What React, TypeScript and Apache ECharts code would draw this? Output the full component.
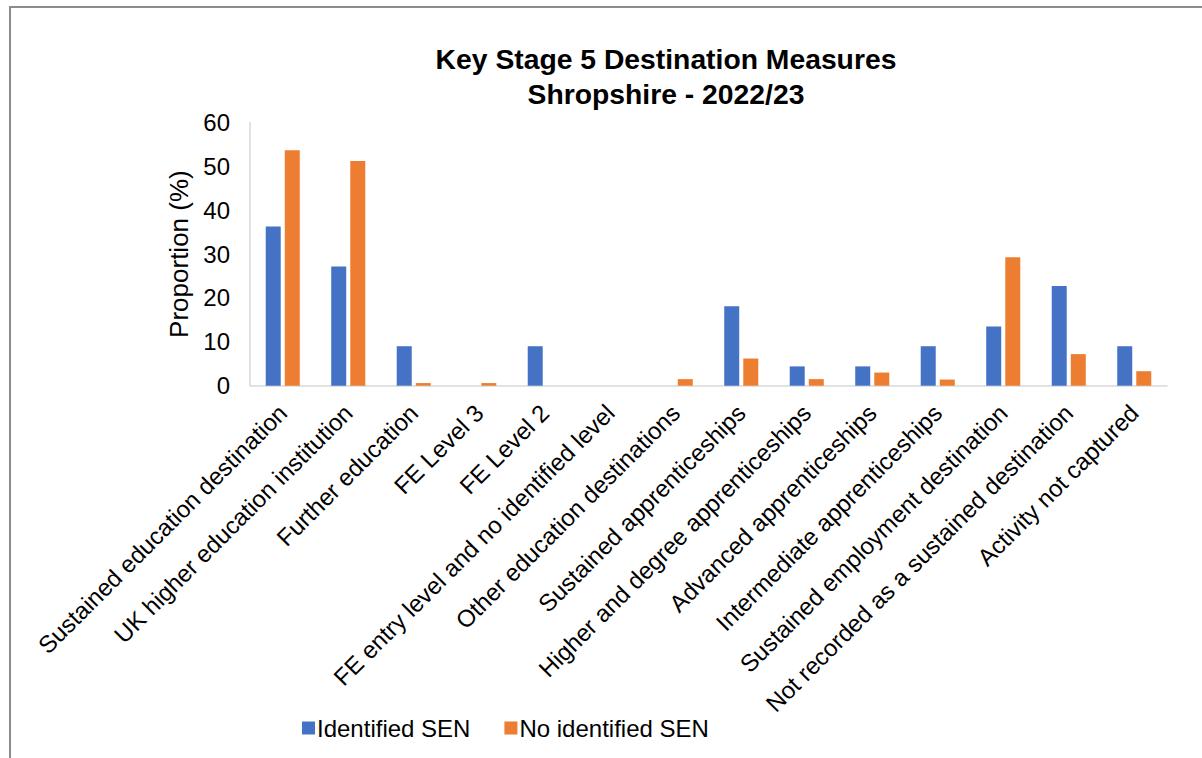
import React, { useEffect, useRef } from "react";
import * as echarts from "echarts";

const categories = [
  "Sustained education destination",
  "UK higher education institution",
  "Further education",
  "FE Level 3",
  "FE Level 2",
  "FE entry level and no identified level",
  "Other education destinations",
  "Sustained apprenticeships",
  "Higher and degree apprenticeships",
  "Advanced apprenticeships",
  "Intermediate apprenticeships",
  "Sustained employment destination",
  "Not recorded as a sustained destination",
  "Activity not captured",
];

const identifiedSEN = [36.3, 27.2, 9.0, 0, 9.0, 0, 0, 18.1, 4.4, 4.4, 9.0, 13.5, 22.7, 9.0];
const noIdentifiedSEN = [53.7, 51.2, 0.6, 0.6, 0, 0, 1.5, 6.2, 1.5, 3.0, 1.4, 29.3, 7.2, 3.3];

const seriesNames = ["Identified SEN", "No identified SEN"];
const titleLines = ["Key Stage 5 Destination Measures", "Shropshire - 2022/23"];
const yAxisName = "Proportion (%)";

const FONT = "'Liberation Sans', Arial, sans-serif";

export default function App() {
  const ref = useRef<HTMLDivElement>(null);
  useEffect(() => {
    if (!ref.current) return;
    const chart = echarts.init(ref.current, null, { renderer: "svg" });
    chart.setOption({
      animation: false,
      backgroundColor: "#ffffff",
      textStyle: { fontFamily: FONT },
      graphic: [
        {
          type: "rect",
          shape: { x: 10, y: 7, width: 1300, height: 900 },
          style: { fill: "none", stroke: "#8c8c8c", lineWidth: 2 },
          silent: true,
        },
        {
          type: "text",
          x: 666,
          y: 76,
          style: {
            text: titleLines.join("\n"),
            textAlign: "center",
            textVerticalAlign: "middle",
            fontFamily: FONT,
            fontWeight: "bold",
            fontSize: 28.3,
            lineHeight: 35,
            fill: "#000000",
          },
        },
      ],
      legend: {
        data: seriesNames,
        left: 297,
        top: 711,
        itemWidth: 13,
        itemHeight: 13,
        itemGap: 34,
        icon: "rect",
        textStyle: { fontFamily: FONT, fontSize: 24, color: "#000000", padding: [0, 0, 0, -3] },
      },
      grid: {
        left: 250,
        right: 35,
        top: 122.5,
        bottom: 372.3,
        containLabel: false,
        outerBoundsMode: "none",
      },
      xAxis: {
        type: "category",
        data: categories,
        axisLine: { show: true, lineStyle: { color: "#d9d9d9", width: 1.5 } },
        axisTick: { show: false },
        axisLabel: {
          interval: 0,
          rotate: 45,
          margin: 23,
          fontFamily: FONT,
          fontSize: 24,
          color: "#000000",
        },
      },
      yAxis: {
        type: "value",
        min: 0,
        max: 60,
        interval: 10,
        name: yAxisName,
        nameLocation: "middle",
        nameRotate: 90,
        nameGap: 57,
        nameTextStyle: { fontFamily: FONT, fontSize: 26, color: "#000000" },
        axisLine: { show: true, lineStyle: { color: "#d9d9d9", width: 1.5 } },
        axisTick: { show: false },
        splitLine: { show: false },
        axisLabel: { fontFamily: FONT, fontSize: 24, color: "#000000", margin: 20 },
      },
      series: [
        {
          name: seriesNames[0],
          type: "bar",
          data: identifiedSEN,
          barWidth: 15,
          barGap: "27%",
          itemStyle: { color: "#4472C4" },
        },
        {
          name: seriesNames[1],
          type: "bar",
          data: noIdentifiedSEN,
          barWidth: 15,
          barGap: "27%",
          itemStyle: { color: "#ED7D31" },
        },
      ],
    });
    return () => chart.dispose();
  }, []);
  return (
    <div
      ref={ref}
      style={{ position: "absolute", left: 0, top: 0, width: 1202, height: 758 }}
    />
  );
}
